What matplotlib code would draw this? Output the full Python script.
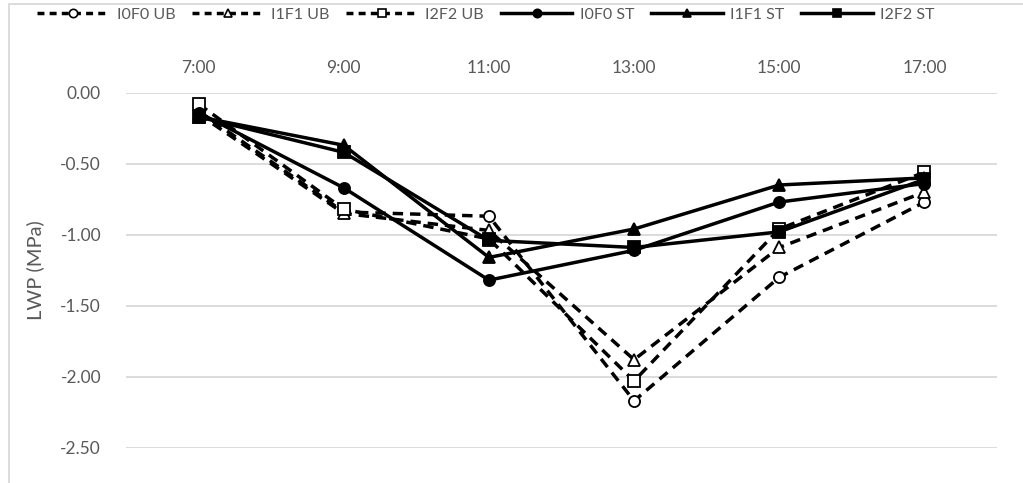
import matplotlib
matplotlib.use("Agg")
import matplotlib.pyplot as plt
from matplotlib.lines import Line2D
from matplotlib.patches import Rectangle

plt.rcParams["font.family"] = ["Lato", "DejaVu Sans"]

times = ["7:00", "9:00", "11:00", "13:00", "15:00", "17:00"]

i0f0_ub = [-0.13, -0.84, -0.87, -2.17, -1.30, -0.77]
i1f1_ub = [-0.15, -0.85, -0.97, -1.88, -1.09, -0.70]
i2f2_ub = [-0.08, -0.82, -1.03, -2.03, -0.96, -0.56]
i0f0_st = [-0.14, -0.67, -1.32, -1.11, -0.77, -0.64]
i1f1_st = [-0.17, -0.37, -1.16, -0.96, -0.65, -0.60]
i2f2_st = [-0.17, -0.42, -1.04, -1.09, -0.98, -0.61]

series = [
    ("I0F0 UB", i0f0_ub, "o", "--", "white"),
    ("I1F1 UB", i1f1_ub, "^", "--", "white"),
    ("I2F2 UB", i2f2_ub, "s", "--", "white"),
    ("I0F0 ST", i0f0_st, "o", "-", "black"),
    ("I1F1 ST", i1f1_st, "^", "-", "black"),
    ("I2F2 ST", i2f2_st, "s", "-", "black"),
]

text_col = "#595959"

fig = plt.figure(figsize=(10.23, 4.83), dpi=100)
ax = fig.add_axes([126 / 1023, 1 - 447.7 / 483, 871 / 1023, 355 / 483])

x = list(range(len(times)))
handles = []
for name, vals, mk, ls, fc in series:
    ax.plot(x, vals, color="black", linestyle=ls, linewidth=2.5,
            dashes=(3, 2) if ls == "--" else (None, None),
            marker=mk, markersize=8, markerfacecolor=fc,
            markeredgecolor="black", markeredgewidth=1.3, zorder=3)
    h = Line2D([0], [0], color="black", linestyle=ls, linewidth=2.5,
               marker=mk, markersize=6, markerfacecolor=fc,
               markeredgecolor="black", markeredgewidth=1.2)
    if ls == "--":
        h.set_dashes((2, 1.5))
    handles.append(h)

ax.set_xlim(-0.5, 5.5)
ax.set_ylim(-2.5, 0)
ax.set_xticks(x)
ax.set_xticklabels(times)
ax.xaxis.tick_top()
ax.set_yticks([0, -0.5, -1.0, -1.5, -2.0, -2.5])
ax.set_yticklabels(["0.00", "-0.50", "-1.00", "-1.50", "-2.00", "-2.50"])
ax.tick_params(axis="x", length=0, pad=12, labelsize=12.5, colors=text_col)
ax.tick_params(axis="y", length=0, pad=18, labelsize=12.5, colors=text_col)
ax.grid(axis="y", color="#d9d9d9", linewidth=1.3)
ax.set_axisbelow(True)
for s in ax.spines.values():
    s.set_visible(False)

fig.text(35 / 1023, 1 - 270 / 483, "LWP (MPa)", rotation=90, ha="center",
         va="center", fontsize=14.5, color=text_col)

fig.legend(handles, [s[0] for s in series], loc="center",
           bbox_to_anchor=(486 / 1023, 1 - 15 / 483), ncol=6, frameon=False,
           handlelength=4.5, columnspacing=1.05, handletextpad=0.45,
           fontsize=11.5, labelcolor=text_col)

# chart area border (only top and left visible in the crop)
fig.add_artist(Rectangle((9 / 1023, -0.1), 1.2, 1 - 4 / 483 + 0.1,
                         transform=fig.transFigure, fill=False,
                         edgecolor="#d9d9d9", linewidth=1.3))

fig.savefig("out.png", dpi=100)
